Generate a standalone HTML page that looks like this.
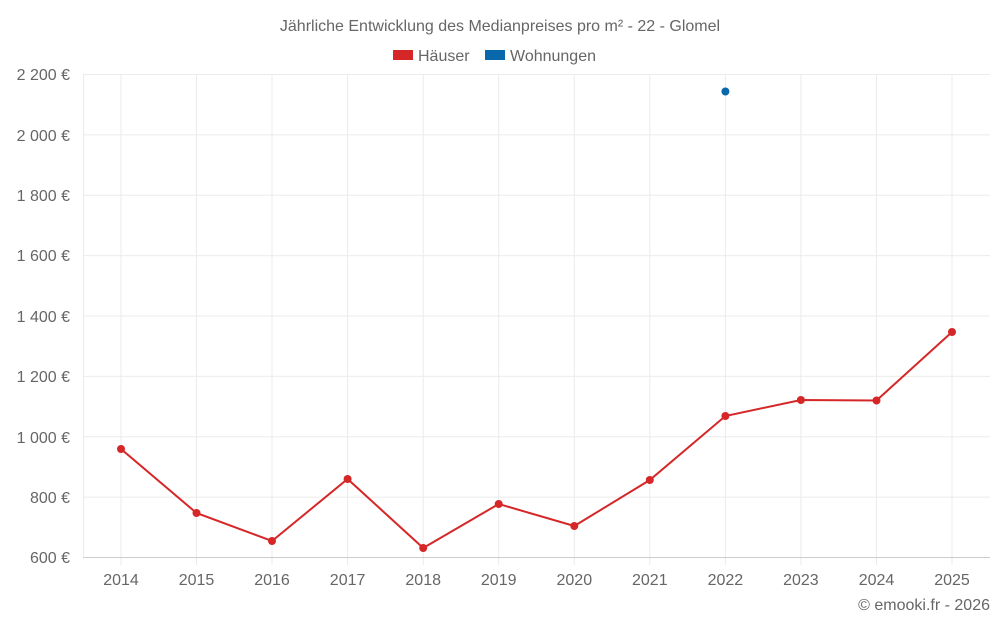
<!DOCTYPE html>
<html><head><meta charset="utf-8"><style>
body{margin:0;background:#fff;font-family:"Liberation Sans",sans-serif;}
</style></head><body>
<svg width="1000" height="625" xmlns="http://www.w3.org/2000/svg" font-family="Liberation Sans, sans-serif">
<rect width="1000" height="625" fill="#fff"/>
<text x="500" y="31" text-anchor="middle" font-size="16" fill="#666">Jährliche Entwicklung des Medianpreises pro m² - 22 - Glomel</text>
<rect x="393" y="50" width="20" height="10" fill="#d62728"/>
<text x="418" y="61" font-size="16" fill="#666">Häuser</text>
<rect x="485" y="50" width="20" height="10" fill="#0868ac"/>
<text x="510" y="61" font-size="16" fill="#666">Wohnungen</text>
<g stroke="#ebebeb" stroke-width="1">
<line x1="83" x2="990" y1="74.5" y2="74.5"/>
<line x1="83" x2="990" y1="134.9" y2="134.9"/>
<line x1="83" x2="990" y1="195.3" y2="195.3"/>
<line x1="83" x2="990" y1="255.6" y2="255.6"/>
<line x1="83" x2="990" y1="316" y2="316"/>
<line x1="83" x2="990" y1="376.4" y2="376.4"/>
<line x1="83" x2="990" y1="436.8" y2="436.8"/>
<line x1="83" x2="990" y1="497.1" y2="497.1"/>
<line x1="83.5" x2="83.5" y1="74" y2="557"/>
<line x1="121" x2="121" y1="74" y2="565"/>
<line x1="196.5" x2="196.5" y1="74" y2="565"/>
<line x1="272" x2="272" y1="74" y2="565"/>
<line x1="347.6" x2="347.6" y1="74" y2="565"/>
<line x1="423.2" x2="423.2" y1="74" y2="565"/>
<line x1="498.7" x2="498.7" y1="74" y2="565"/>
<line x1="574.3" x2="574.3" y1="74" y2="565"/>
<line x1="649.8" x2="649.8" y1="74" y2="565"/>
<line x1="725.4" x2="725.4" y1="74" y2="565"/>
<line x1="800.9" x2="800.9" y1="74" y2="565"/>
<line x1="876.5" x2="876.5" y1="74" y2="565"/>
<line x1="952" x2="952" y1="74" y2="565"/>
</g>
<line x1="83" x2="990" y1="557.5" y2="557.5" stroke="#ccc"/>
<g font-size="16" fill="#666" text-anchor="end">
<text x="70" y="80">2 200 €</text>
<text x="70" y="141">2 000 €</text>
<text x="70" y="201">1 800 €</text>
<text x="70" y="261">1 600 €</text>
<text x="70" y="322">1 400 €</text>
<text x="70" y="382">1 200 €</text>
<text x="70" y="443">1 000 €</text>
<text x="70" y="503">800 €</text>
<text x="70" y="563">600 €</text>
</g>
<g font-size="16" fill="#666" text-anchor="middle">
<text x="121" y="585">2014</text><text x="196.5" y="585">2015</text><text x="272" y="585">2016</text>
<text x="347.6" y="585">2017</text><text x="423.2" y="585">2018</text><text x="498.7" y="585">2019</text>
<text x="574.3" y="585">2020</text><text x="649.8" y="585">2021</text><text x="725.4" y="585">2022</text>
<text x="800.9" y="585">2023</text><text x="876.5" y="585">2024</text><text x="952" y="585">2025</text>
</g>
<text x="990" y="610" text-anchor="end" font-size="16" fill="#666">© emooki.fr - 2026</text>
<polyline fill="none" stroke="#d62728" stroke-width="2" points="121,449 196.5,513 272,541 347.6,479 423.2,548 498.7,504 574.3,526 649.8,480 725.4,416 800.9,400 876.5,400.5 952,332"/>
<g fill="#d62728">
<circle cx="121" cy="449" r="4"/><circle cx="196.5" cy="513" r="4"/><circle cx="272" cy="541" r="4"/>
<circle cx="347.6" cy="479" r="4"/><circle cx="423.2" cy="548" r="4"/><circle cx="498.7" cy="504" r="4"/>
<circle cx="574.3" cy="526" r="4"/><circle cx="649.8" cy="480" r="4"/><circle cx="725.4" cy="416" r="4"/>
<circle cx="800.9" cy="400" r="4"/><circle cx="876.5" cy="400.5" r="4"/><circle cx="952" cy="332" r="4"/>
</g>
<circle cx="725.4" cy="91.5" r="4" fill="#0868ac"/>
</svg>
</body></html>
